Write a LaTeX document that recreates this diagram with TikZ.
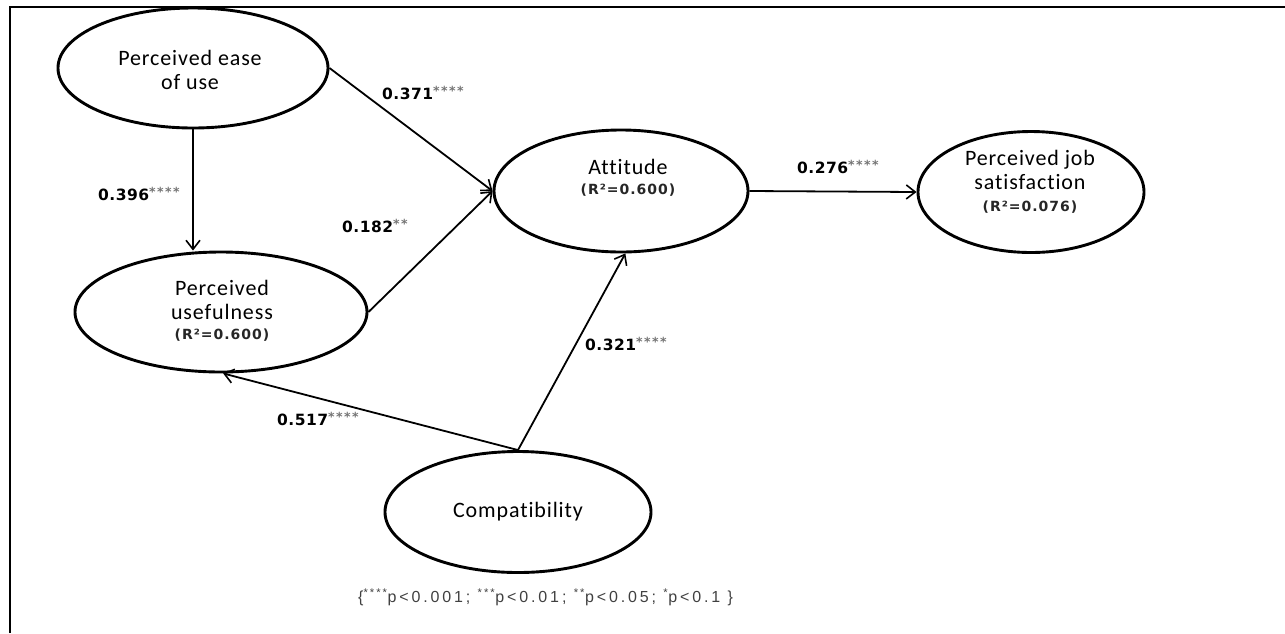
\documentclass[tikz,border=0pt]{standalone}
\usepackage{fontspec}
\setmainfont{Carlito}[Ligatures=NoCommon, LetterSpace=4]
\newfontfamily\lblfont{DejaVu Sans}[LetterSpace=3]
\newfontfamily\starface{DejaVu Sans}[LetterSpace=12]
\newfontfamily\rsqface{DejaVu Sans}[LetterSpace=7]
\newfontfamily\notefont{Liberation Sans}[LetterSpace=18]
\usetikzlibrary{shapes.geometric,arrows.meta}

\newcommand\sigstars[1]{\raisebox{4pt}{\starface\bfseries\fontsize{12.5}{12.5}\selectfont\color{black!55}#1}}
\newcommand\rsqfont{\rsqface\bfseries\fontsize{14}{16}\selectfont\color{black!85}}

\begin{document}
\begin{tikzpicture}[x=1pt,y=-1pt,
  construct/.style={ellipse, draw, line width=2.9pt, inner sep=0pt},
  ctext/.style={align=center, font=\fontsize{22}{24}\selectfont, inner sep=0pt},
  effect/.style={line width=1.8pt, -{Straight Barb[length=9pt,width=14pt,line width=1.6pt]}},
  coef/.style={font=\lblfont\bfseries\fontsize{15.5}{17}\selectfont, inner sep=0pt, anchor=west}
]
\useasboundingbox (0,0) rectangle (1285,633);

% frame
\draw[line width=2.5pt] (10,633) -- (10,7) -- (1285,7);

% constructs
\node[construct, minimum width=270pt, minimum height=120pt] (peou) at (193,68) {};
\node[construct, minimum width=292pt, minimum height=120pt] (pu)   at (221,312) {};
\node[construct, minimum width=254pt, minimum height=122pt] (att)  at (621,191) {};
\node[construct, minimum width=226pt, minimum height=121pt] (pjs)  at (1031,192) {};
\node[construct, minimum width=266pt, minimum height=121pt] (comp) at (518,512) {};

% construct names
\node[ctext] (peoutext) at (190,70) {Perceived ease\\of use};
\node[ctext] (putext) at (222,300) {Perceived\\usefulness};
\node[font=\rsqfont, inner sep=0pt] (pursq) at (222,335) {(R²=0.600)};
\node[ctext] (atttext) at (628,167) {Attitude};
\node[font=\rsqfont, inner sep=0pt] (attrsq) at (628,190) {(R²=0.600)};
\node[ctext] (pjstext) at (1030,170) {Perceived job\\satisfaction};
\node[font=\rsqfont, inner sep=0pt] (pjsrsq) at (1030,207) {(R²=0.076)};
\node[ctext] (comptext) at (518,512) {Compatibility};

% structural paths
\draw[effect] (peou.east) -- (att.west);
\draw[effect] (pu.east) -- (att.west);
\draw[effect] (peou.south) -- (peou.south |- pu.north);
\draw[effect] (att.east) -- (pjs.west);
\draw[effect] (comp.north) -- (att.-86);
\draw[effect] (comp.north) -- (pu.-88);

% path coefficients
\node[coef] (c371) at (382,93)  {0.371\sigstars{****}};
\node[coef] (c396) at (98,194)  {0.396\sigstars{****}};
\node[coef] (c182) at (342,226) {0.182\sigstars{**}};
\node[coef] (c276) at (797,167) {0.276\sigstars{****}};
\node[coef] (c321) at (585,344) {0.321\sigstars{****}};
\node[coef] (c517) at (277,419) {0.517\sigstars{****}};

% significance legend
\node[anchor=west, inner sep=0pt, text=black!75, font=\notefont\fontsize{16}{18}\selectfont] (legend) at (358,597)
  {\{\textsuperscript{****}p<0.001; \textsuperscript{***}p<0.01; \textsuperscript{**}p<0.05; \textsuperscript{*}p<0.1 \}};
\end{tikzpicture}
\end{document}
